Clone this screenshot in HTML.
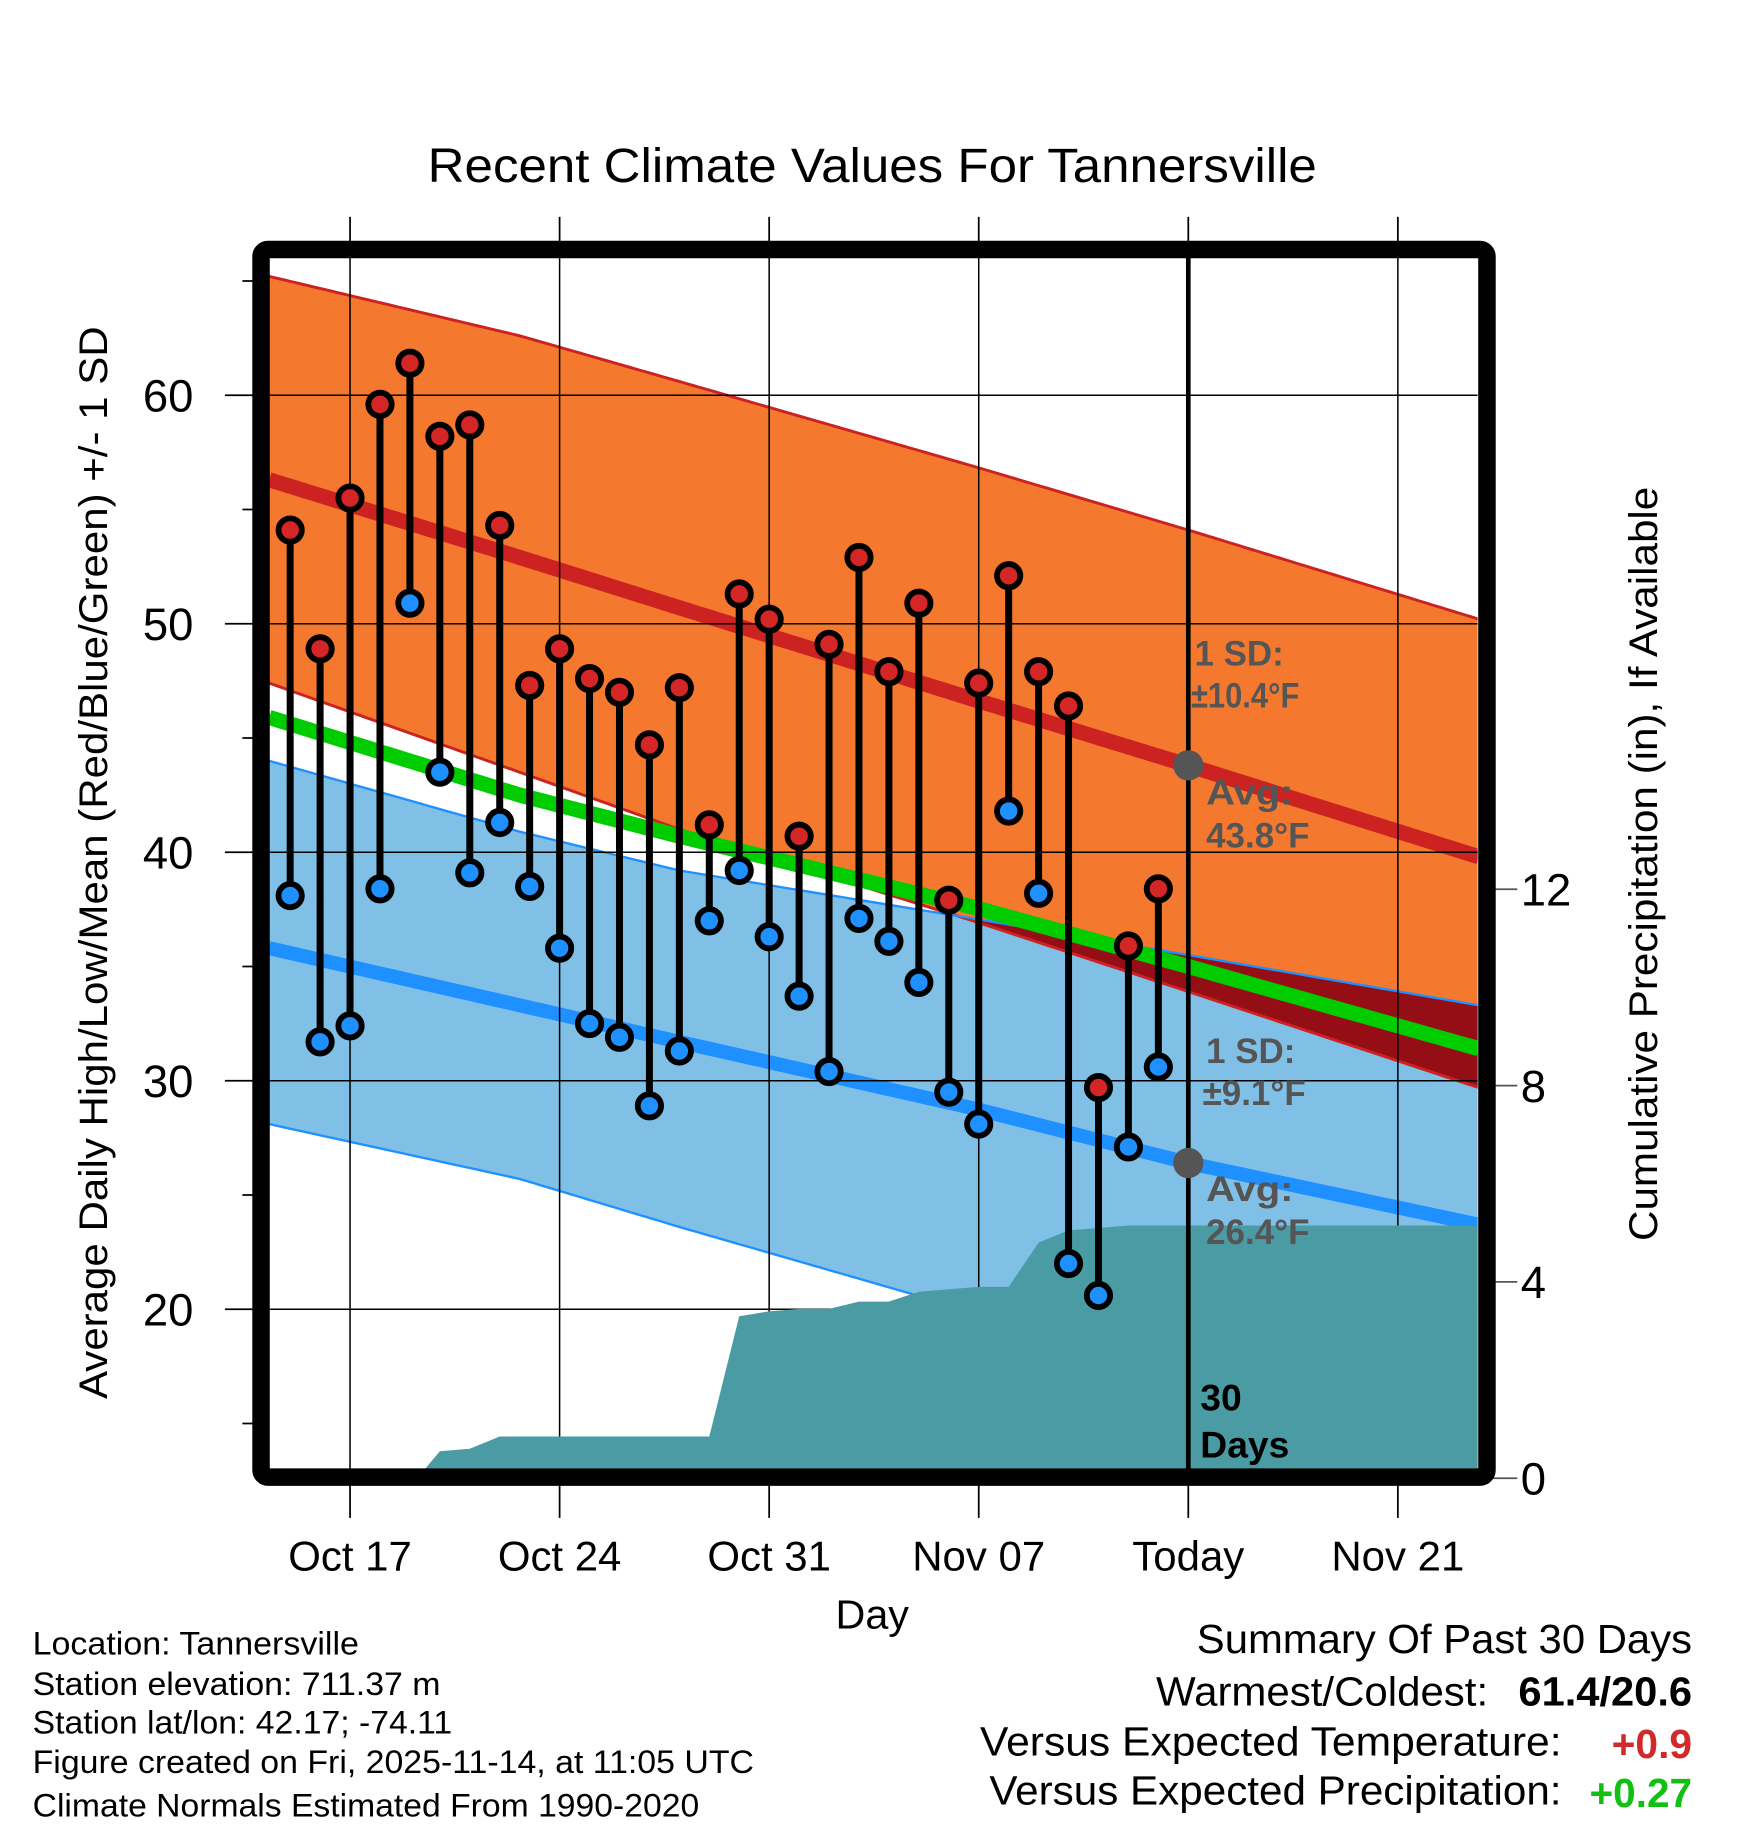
<!DOCTYPE html>
<html><head><meta charset="utf-8"><style>
html,body{margin:0;padding:0;background:#fff;}
svg{display:block;font-family:"Liberation Sans",Arial,sans-serif;}
</style></head><body>
<svg id="chart" width="1748" height="1828" viewBox="0 0 1500 1568" preserveAspectRatio="none" xmlns="http://www.w3.org/2000/svg">
<defs><clipPath id="plotclip"><rect x="231" y="221" width="1037" height="1039"/></clipPath></defs>
<g id="plot" clip-path="url(#plotclip)"></g>
<g id="over"></g>
<text x="367" y="156" textLength="763" lengthAdjust="spacingAndGlyphs" font-size="41">Recent Climate Values For Tannersville</text>
<text transform="translate(92,740) rotate(-90)" text-anchor="middle" textLength="920" lengthAdjust="spacingAndGlyphs" font-size="34">Average Daily High/Low/Mean (Red/Blue/Green) +/- 1 SD</text>
<text transform="translate(1422,741) rotate(-90)" text-anchor="middle" textLength="647" lengthAdjust="spacingAndGlyphs" font-size="34">Cumulative Precipitation (in), If Available</text>
<text x="717" y="1397" textLength="63" lengthAdjust="spacingAndGlyphs" font-size="35">Day</text>
<g font-size="28">
<text x="28" y="1419" textLength="280" lengthAdjust="spacingAndGlyphs">Location: Tannersville</text>
<text x="28" y="1454" textLength="350" lengthAdjust="spacingAndGlyphs">Station elevation: 711.37 m</text>
<text x="28" y="1487" textLength="360" lengthAdjust="spacingAndGlyphs">Station lat/lon: 42.17; -74.11</text>
<text x="28" y="1521" textLength="619" lengthAdjust="spacingAndGlyphs">Figure created on Fri, 2025-11-14, at 11:05 UTC</text>
<text x="28" y="1558" textLength="572" lengthAdjust="spacingAndGlyphs">Climate Normals Estimated From 1990-2020</text>
</g>
<g font-size="35">
<text x="1027" y="1418" textLength="425" lengthAdjust="spacingAndGlyphs">Summary Of Past 30 Days</text>
<text x="992" y="1463" textLength="285" lengthAdjust="spacingAndGlyphs">Warmest/Coldest:</text>
<text x="1303" y="1463" textLength="149" lengthAdjust="spacingAndGlyphs" font-weight="bold">61.4/20.6</text>
<text x="841" y="1506" textLength="499" lengthAdjust="spacingAndGlyphs">Versus Expected Temperature:</text>
<text x="1383" y="1508" textLength="69" lengthAdjust="spacingAndGlyphs" font-weight="bold" fill="#d22a2a">+0.9</text>
<text x="849" y="1548" textLength="491" lengthAdjust="spacingAndGlyphs">Versus Expected Precipitation:</text>
<text x="1364" y="1550" textLength="88" lengthAdjust="spacingAndGlyphs" font-weight="bold" fill="#12c012">+0.27</text>
</g>
</svg>
<script>
// day index 0 = Oct 15
const highs=[54.1,48.9,55.5,59.6,61.4,58.2,58.7,54.3,47.3,48.9,47.6,47.0,44.7,47.2,41.2,51.3,50.2,40.7,49.1,52.9,47.9,50.9,37.9,47.4,52.1,47.9,46.4,29.7,35.9,38.4];
const lows=[38.1,31.7,32.4,38.4,50.9,43.5,39.1,41.3,38.5,35.8,32.5,31.9,28.9,31.3,37.0,39.2,36.3,33.7,30.4,37.1,36.1,34.3,29.5,28.1,41.8,38.2,22.0,20.6,27.1,30.6];
const precip=[0,0,0,0,0,0.55,0.6,0.85,0.85,0.85,0.85,0.85,0.85,0.85,0.85,3.3,3.4,3.45,3.45,3.6,3.6,3.8,3.85,3.9,3.9,4.8,5.05,5.1,5.15,5.15];
const normDays=[-0.7,7.67,13,22.8,30,39.7];
const normHigh=[56.3,52.9,50.7,46.7,43.8,39.8];
const normHighUp=[65.2,62.6,60.6,56.9,54.1,50.2];
const normHighLo=[47.4,43.5,41.0,37.0,33.9,29.7];
const normMean=[45.9,42.5,40.7,37.6,35.0,31.4];
const normLow=[35.8,33.3,31.7,28.8,26.4,23.7];
const normLowUp=[44.0,40.9,39.2,37.1,35.5,33.3];
const normLowLo=[28.1,25.7,23.6,19.9,17.0,13.0];
const xTickDays=[2,9,16,23,30,37];
const xTickLabels=["Oct 17","Oct 24","Oct 31","Nov 07","Today","Nov 21"];
const yTicks=[20,30,40,50,60];
const y2Ticks=[0,4,8,12];
const todayDay=30;

const NS="http://www.w3.org/2000/svg";
const X=d=>249+25.69*d;
const Y=t=>339+(60-t)*19.6;
const YP=p=>1268-p*42.1;
const plot=document.getElementById('plot'), over=document.getElementById('over');
function el(tag,attrs,parent){const e=document.createElementNS(NS,tag);for(const k in attrs)e.setAttribute(k,attrs[k]);parent.appendChild(e);return e;}
function interp(arr,d){for(let i=0;i<normDays.length-1;i++){if(d<=normDays[i+1]||i==normDays.length-2){const t=(d-normDays[i])/(normDays[i+1]-normDays[i]);return arr[i]+t*(arr[i+1]-arr[i]);}}}
const samples=[];for(let i=0;i<=160;i++)samples.push(-0.7+40.4*i/160);
function linePts(arr){return samples.map(d=>X(d)+','+Y(interp(arr,d))).join(' ');}
function bandPts(a,b){return samples.map(d=>X(d)+','+Y(interp(a,d))).concat(samples.slice().reverse().map(d=>X(d)+','+Y(interp(b,d)))).join(' ');}

let e;
e=el('polygon',{points:bandPts(normHighUp,normHighLo),fill:'#f4792e'},plot);

e=el('polygon',{points:bandPts(normLowUp,normLowLo),fill:'#80c0e6'},plot);

const ovTop=samples.map(d=>{const a=Y(interp(normLowUp,d)),b=Y(interp(normHighLo,d));return X(d)+','+Math.min(a,b);});
const ovBot=samples.slice().reverse().map(d=>X(d)+','+Y(interp(normHighLo,d)));
e=el('polygon',{points:ovTop.concat(ovBot).join(' '),fill:'#950e16'},plot);

[[normHighUp,'#cc2222',2.5],[normHighLo,'#cc2222',2.5],[normLowUp,'#1e90ff',2],[normLowLo,'#1e90ff',2]].forEach(([a,c,w])=>{
 const l=el('polyline',{points:linePts(a),fill:'none',stroke:c,'stroke-width':w},plot);
 });
e=el('polyline',{points:linePts(normHigh),fill:'none',stroke:'#cc2222','stroke-width':13},plot);

e=el('polyline',{points:linePts(normLow),fill:'none',stroke:'#1e90ff','stroke-width':12},plot);

e=el('polyline',{points:linePts(normMean),fill:'none',stroke:'#00cc00','stroke-width':13},plot);

xTickDays.forEach(d=>{const g=el('line',{x1:X(d),x2:X(d),y1:221,y2:1260,stroke:'#000','stroke-width':1.3},plot);
 });
yTicks.forEach(t=>{const g=el('line',{x1:231,x2:1268,y1:Y(t),y2:Y(t),stroke:'#000','stroke-width':1.3},plot);
 });
let pp=[X(4.24)+','+YP(0)];
precip.forEach((p,i)=>{if(i>=5)pp.push(X(i)+','+YP(p));});
pp.push('1270,'+YP(precip[precip.length-1]));pp.push('1270,1270');pp.push(X(4.24)+',1270');
e=el('polygon',{points:pp.join(' '),fill:'#4a9ba4'},plot);

e=el('line',{x1:X(todayDay),x2:X(todayDay),y1:214,y2:1262,stroke:'#000','stroke-width':4},over);

highs.forEach((h,i)=>{
 const s=el('line',{x1:X(i),x2:X(i),y1:Y(h),y2:Y(lows[i]),stroke:'#000','stroke-width':6},over);
 });
highs.forEach((h,i)=>{
 const c=el('circle',{cx:X(i),cy:Y(h),r:10,fill:'#d42626',stroke:'#000','stroke-width':5},over);
 
 const c2=el('circle',{cx:X(i),cy:Y(lows[i]),r:10,fill:'#1e90ff',stroke:'#000','stroke-width':5},over);
 });
[normHigh,normLow].forEach(a=>{const c=el('circle',{cx:X(todayDay),cy:Y(interp(a,todayDay)),r:13,fill:'#555'},over);
 });
function txt(x,y,s,attrs,name){const t=el('text',Object.assign({x:x,y:y},attrs),over);t.textContent=s;
 return t;}
const g={fill:'#555','font-weight':'bold','font-size':30};
txt(1025,571,'1 SD:',g,'high-sd-label');txt(1022,607,'±10.4°F',Object.assign({textLength:93,lengthAdjust:'spacingAndGlyphs'},g),'high-sd-value');
txt(1035,690,'Avg:',Object.assign({textLength:75,lengthAdjust:'spacingAndGlyphs'},g),'high-avg-label');txt(1035,727,'43.8°F',g,'high-avg-value');
txt(1035,912,'1 SD:',g,'low-sd-label');txt(1032,948,'±9.1°F',g,'low-sd-value');
txt(1035,1030,'Avg:',Object.assign({textLength:75,lengthAdjust:'spacingAndGlyphs'},g),'low-avg-label');txt(1035,1067,'26.4°F',g,'low-avg-value');
const b={fill:'#000','font-weight':'bold','font-size':32};
txt(1030,1210,'30',b,'days-count');txt(1030,1250,'Days',b,'days-label');
xTickDays.forEach((d,i)=>{
 const t1=el('line',{x1:X(d),x2:X(d),y1:186,y2:214,stroke:'#000','stroke-width':1.5},over);
 
 const t2=el('line',{x1:X(d),x2:X(d),y1:1268,y2:1302,stroke:'#000','stroke-width':1.5},over);
 
 txt(X(d),1347,xTickLabels[i],{'text-anchor':'middle','font-size':36,fill:'#000'},'x-tick-label');});
for(let t=15;t<=65;t+=5){const major=t%10==0;
 const tk=el('line',{x1:major?193:208,x2:224,y1:Y(t),y2:Y(t),stroke:'#000','stroke-width':1.5},over);
 }
yTicks.forEach(t=>txt(166,Y(t)+14,String(t),{'text-anchor':'end','font-size':39,fill:'#000'},'y-tick-label'));
y2Ticks.forEach(p=>{const tk=el('line',{x1:1276,x2:1302,y1:YP(p),y2:YP(p),stroke:'#555','stroke-width':1.5},over);
 
 txt(1305,YP(p)+14,String(p),{'font-size':39,fill:'#000'},'y2-tick-label');});
e=el('rect',{x:224,y:214,width:1052,height:1053,rx:6,fill:'none',stroke:'#000','stroke-width':15},over);

</script>
</body></html>
